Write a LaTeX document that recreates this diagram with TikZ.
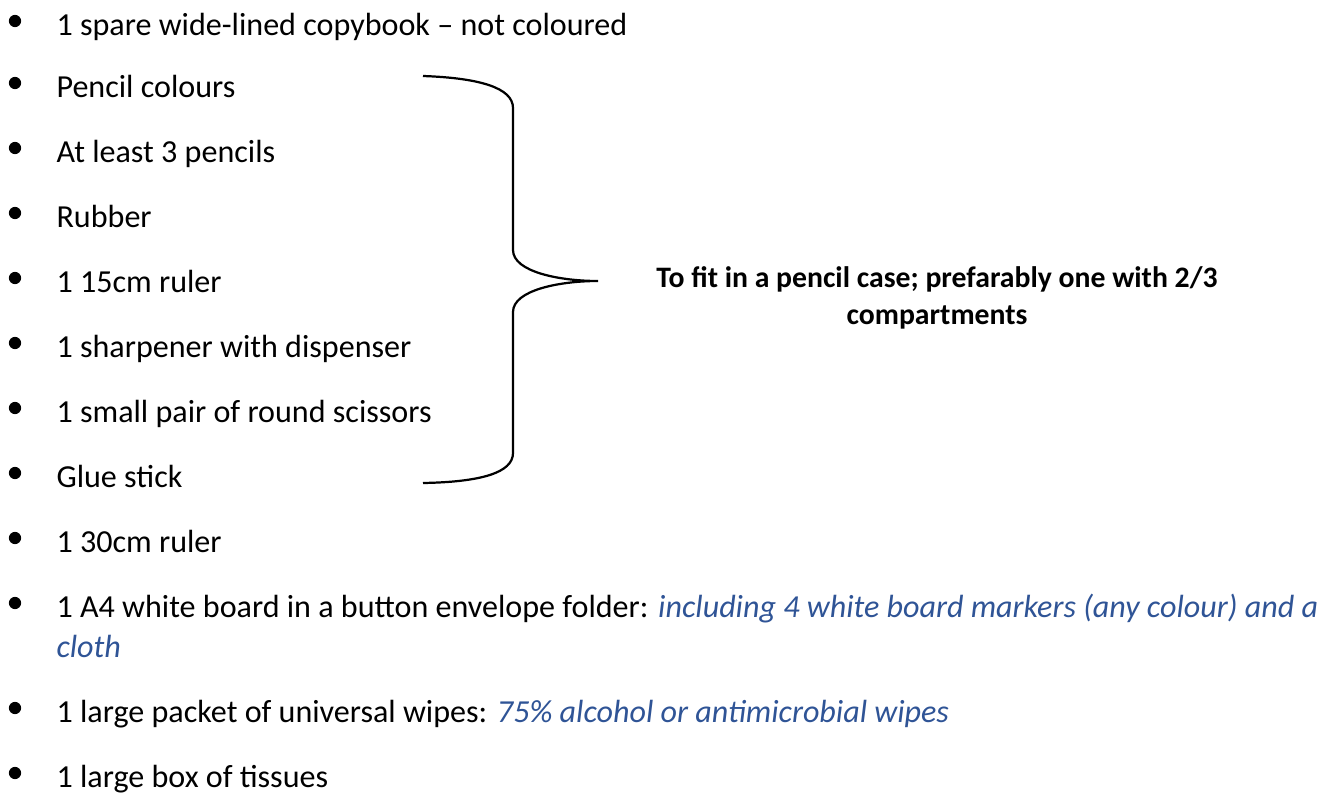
\documentclass[tikz,border=0pt]{standalone}
\usepackage{fontspec}
\setmainfont{Carlito}
\usetikzlibrary{positioning}
\definecolor{noteblue}{HTML}{2F5496}
\tikzset{
  item/.style={anchor=base west, inner sep=0pt, font=\fontsize{11.55}{13}\selectfont},
  dot/.style={circle, fill, inner sep=0pt, minimum size=4.4pt},
  note/.style={text=noteblue, font=\fontsize{11.55}{13}\selectfont\itshape},
}
\begin{document}
\begin{tikzpicture}[x=0.36pt, y=-0.36pt]
\useasboundingbox (0,0) rectangle (1340,796);
% bullets
\foreach \y [count=\i] in {35,97,162,227,292,357,422,487,552,617,722,787}
  \node[dot] (b\i) at (15,\y-14) {};
% list
\node[item] (t1) at (56,35) {1 spare wide-lined copybook -- not coloured};
\node[item] (t2) at (56,97) {Pencil colours};
\node[item] (t3) at (56,162) {At least 3 pencils};
\node[item] (t4) at (56,227) {Rubber};
\node[item] (t5) at (56,292) {1 15cm ruler};
\node[item] (t6) at (56,357) {1 sharpener with dispenser};
\node[item] (t7) at (56,422) {1 small pair of round scissors};
\node[item] (t8) at (56,487) {Glue stick};
\node[item] (t9) at (56,552) {1 30cm ruler};
\node[item] (t10) at (56,617) {1 A4 white board in a button envelope folder: \textcolor{noteblue}{\itshape including 4 white board markers (any colour) and a}};
\node[item, note] (t10b) at (56,657) {cloth};
\node[item] (t11) at (56,722) {1 large packet of universal wipes: \textcolor{noteblue}{\itshape 75\% alcohol or antimicrobial wipes}};
\node[item] (t12) at (56,787) {1 large box of tissues};
% brace
\coordinate (btop) at (423,76);
\coordinate (btip) at (598,281);
\coordinate (bbot) at (423,483);
\draw[line width=0.8pt] (btop) .. controls (480,78) and (513,88) .. (513,108) -- (513,250)
  .. controls (513,272) and (560,281) .. (btip)
  .. controls (560,281) and (513,290) .. (513,312) -- (513,453)
  .. controls (513,473) and (480,482) .. (bbot);
\node[align=center, inner sep=0pt, font=\fontsize{10.7}{13.4}\selectfont\bfseries] (case) at (937,298)
  {To fit in a pencil case; prefarably one with 2/3\\compartments};
\end{tikzpicture}
\end{document}
